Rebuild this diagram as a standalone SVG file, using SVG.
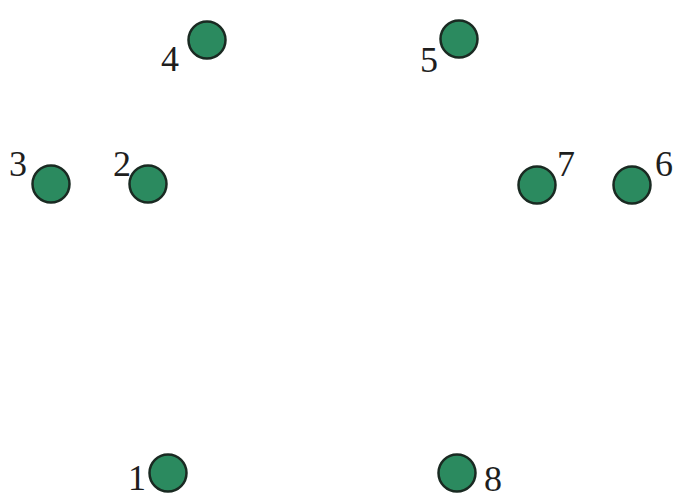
<svg xmlns="http://www.w3.org/2000/svg" width="685" height="499" viewBox="0 0 685 499">
<style>
.n{fill:#2b8a5f;stroke:#1a2a22;stroke-width:2.5}
.t{font-family:"Liberation Serif","Times New Roman",serif;font-size:36px;fill:#1e1e1e}
</style>
<rect width="685" height="499" fill="#ffffff"/>
<g id="connectors"></g>
<g id="node1"><circle class="n" cx="168" cy="473" r="18.5"/><text class="t" x="128" y="490">1</text></g>
<g id="node2"><circle class="n" cx="148" cy="184" r="18.5"/><text class="t" x="113" y="176">2</text></g>
<g id="node3"><circle class="n" cx="51" cy="184" r="18.5"/><text class="t" x="9" y="176">3</text></g>
<g id="node4"><circle class="n" cx="207" cy="40" r="18.5"/><text class="t" x="161" y="71">4</text></g>
<g id="node5"><circle class="n" cx="459" cy="39" r="18.5"/><text class="t" x="420" y="72">5</text></g>
<g id="node6"><circle class="n" cx="632" cy="185" r="18.5"/><text class="t" x="655" y="176">6</text></g>
<g id="node7"><circle class="n" cx="537" cy="185" r="18.5"/><text class="t" x="557" y="176">7</text></g>
<g id="node8"><circle class="n" cx="457" cy="473" r="18.5"/><text class="t" x="484" y="491">8</text></g>
</svg>
